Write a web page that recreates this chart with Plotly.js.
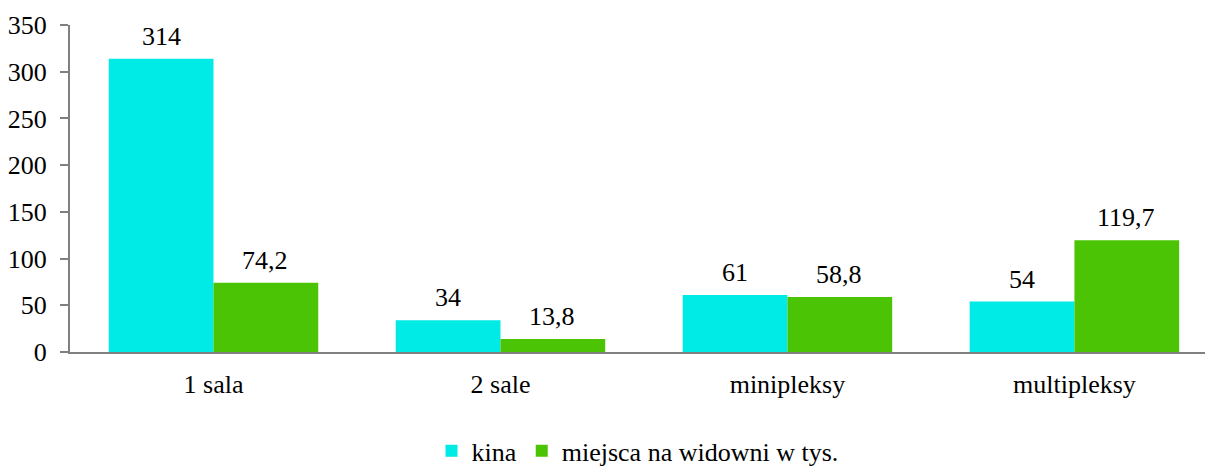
<!DOCTYPE html>
<html>
<head>
<meta charset="utf-8">
<script src="https://cdn.plot.ly/plotly-3.0.1.min.js"></script>
<style>html,body{margin:0;padding:0;background:#fff;}#chart{width:1205px;height:472px;}</style>
</head>
<body>
<div id="chart"></div>
<script>
var categories = ["1 sala", "2 sale", "minipleksy", "multipleksy"];
var kina = [314, 34, 61, 54];
var miejsca = [74.2, 13.8, 58.8, 119.7];
var seriesNames = ["kina", "miejsca na widowni w tys."];
var yTicks = [0, 50, 100, 150, 200, 250, 300, 350];

function fmt(v) { return String(v).replace('.', ','); }
var FONT = 'Liberation Serif';
var FS = 26;

var traces = [
  {
    type: 'bar', name: seriesNames[0], x: categories, y: kina,
    marker: {color: '#00EAE6'}
  },
  {
    type: 'bar', name: seriesNames[1], x: categories, y: miejsca,
    marker: {color: '#4BC405'}
  }
];

// data labels above each bar, placed through the axes
var annotations = [];
[kina, miejsca].forEach(function (series, si) {
  series.forEach(function (v, i) {
    annotations.push({
      x: categories[i], y: v, xref: 'x', yref: 'y',
      text: fmt(v), showarrow: false,
      xanchor: 'center', yanchor: 'bottom',
      xshift: si === 0 ? -52 : 52, yshift: 6,
      font: {family: FONT, size: FS, color: '#000'}
    });
  });
});

var layout = {
  width: 1205, height: 472,
  margin: {l: 70, r: 0, t: 25, b: 120},
  paper_bgcolor: '#fff', plot_bgcolor: '#fff',
  font: {family: FONT, size: FS, color: '#000'},
  barmode: 'group', bargap: 0.27, bargroupgap: 0,
  xaxis: {
    type: 'category', range: [-0.5, 3.455], automargin: false,
    showline: true, linecolor: '#808080', linewidth: 2,
    ticks: '', showgrid: false, zeroline: false, ticklabelstandoff: 8,
    tickfont: {family: FONT, size: FS, color: '#000'}
  },
  yaxis: {
    range: [0, 350], tickvals: yTicks, ticktext: yTicks.map(String), automargin: false,
    showline: true, linecolor: '#808080', linewidth: 2,
    ticks: 'outside', ticklen: 8, tickwidth: 2, tickcolor: '#808080',
    showgrid: false, zeroline: false, ticklabelstandoff: 8,
    tickfont: {family: FONT, size: FS, color: '#000'}
  },
  annotations: annotations,
  showlegend: true,
  legend: {
    orientation: 'h', x: 0.5, xanchor: 'center',
    yref: 'container', y: 0.045, yanchor: 'middle',
    font: {family: FONT, size: FS, color: '#000'},
    itemwidth: 30, tracegroupgap: 0
  }
};

Plotly.newPlot('chart', traces, layout, {displayModeBar: false, staticPlot: true});
</script>
</body>
</html>
